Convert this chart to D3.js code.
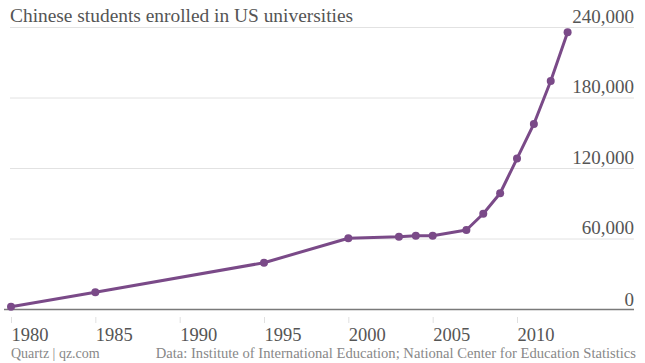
<!DOCTYPE html>
<html>
<head>
<meta charset="utf-8">
<script src="https://cdn.jsdelivr.net/npm/d3@7"></script>
<style>
html,body{margin:0;padding:0;background:#fff;}
svg{display:block;}
text{font-family:"Liberation Serif","DejaVu Serif",serif;}
</style>
</head>
<body>
<svg id="chart" width="645" height="363"></svg>
<script>
const years = [1980, 1985, 1995, 2000, 2003, 2004, 2005, 2007, 2008, 2009, 2010, 2011, 2012, 2013];
const students = [2000, 14200, 39400, 60200, 61500, 62400, 62400, 67200, 81100, 98500, 128000, 157500, 194000, 235500];
const xTicks = [1980, 1985, 1990, 1995, 2000, 2005, 2010];
const yTicks = [0, 60000, 120000, 180000, 240000];
const title = "Chinese students enrolled in US universities";
const sourceLeft = "Quartz | qz.com";
const sourceRight = "Data: Institute of International Education; National Center for Education Statistics";

const svg = d3.select("#chart");
const x = d3.scaleLinear().domain([1980, 2010]).range([11, 517]);
const y = d3.scaleLinear().domain([0, 240000]).range([309, 27]);
const purple = "#7a4a88";

// gridlines + y labels
const yAxis = d3.axisRight(y).tickValues(yTicks).tickSize(0)
  .tickFormat(d3.format(","));
const gy = svg.append("g").call(yAxis);
gy.select(".domain").remove();
gy.selectAll(".tick line").remove();
gy.selectAll(".tick").append("line")
  .attr("x1", 10).attr("x2", 634).attr("y1", 0).attr("y2", 0)
  .attr("stroke", d => d === 0 ? "#7a7a7a" : "#e2e2e2")
  .attr("stroke-width", d => d === 0 ? 1.5 : 1);
gy.selectAll(".tick text")
  .attr("x", 634).attr("dy", "-5")
  .attr("text-anchor", "end")
  .attr("fill", "#555").attr("font-size", 19);
gy.selectAll(".tick").filter(d => d === 0).select("line").attr("x1", 4);
gy.selectAll(".tick").filter(d => d === 0).select("text").attr("dy", "-4");

// x axis
const xAxis = d3.axisBottom(x).tickValues(xTicks).tickSize(6).tickFormat(d3.format("d"));
const gx = svg.append("g").attr("transform", "translate(0,317)").call(xAxis);
gx.select(".domain").remove();
gx.selectAll(".tick line").attr("stroke", "#e0e0e0");
gx.selectAll(".tick text")
  .attr("y", 24).attr("dy", 0)
  .attr("x", 0)
  .attr("text-anchor", "start")
  .attr("fill", "#555").attr("font-size", 18.5);

// line
const line = d3.line().x((d, i) => x(years[i])).y(d => y(d));
svg.append("path").datum(students)
  .attr("d", line).attr("fill", "none")
  .attr("stroke", purple).attr("stroke-width", 3)
  .attr("stroke-linejoin", "round");
svg.append("g").selectAll("circle").data(students).join("circle")
  .attr("cx", (d, i) => x(years[i])).attr("cy", d => y(d))
  .attr("r", 4).attr("fill", purple);

// title
svg.append("text").attr("x", 10).attr("y", 22)
  .attr("fill", "#555").attr("font-size", 19.4).text(title);

// footer
svg.append("text").attr("x", 11).attr("y", 358)
  .attr("fill", "#888").attr("font-size", 14).text(sourceLeft);
svg.append("text").attr("x", 636).attr("y", 358).attr("text-anchor", "end")
  .attr("fill", "#888").attr("font-size", 14.6).text(sourceRight);
</script>
</body>
</html>
